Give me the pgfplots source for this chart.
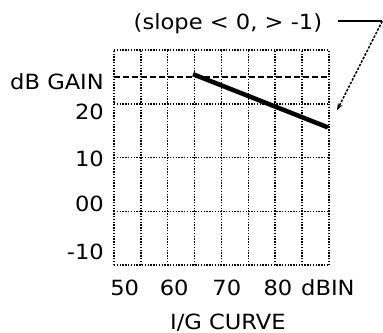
\documentclass[border=0pt]{standalone}
\usepackage{fontspec}
\setmainfont{DejaVu Sans}[FakeStretch=1.08]
\usepackage{pgfplots}
\usetikzlibrary{arrows.meta}
\pgfplotsset{compat=1.18}
\begin{document}
\begin{tikzpicture}[font=\fontsize{21}{24}\selectfont]
\useasboundingbox (-114bp,-68bp) rectangle (269bp,265bp);
\begin{axis}[
  at={(0,0)}, anchor=south west,
  scale only axis, width=215bp, height=215bp,
  xmin=50, xmax=90, ymin=-10, ymax=30,
  axis line style={draw=none},
  clip=false,
  every tick label/.append style={font=\fontsize{21}{24}\selectfont},
  every axis label/.append style={font=\fontsize{21}{24}\selectfont},
  xtick={50,55,...,90},
  xticklabels={},
  xmajorgrids,
  ytick={-7.6,1.3,9.8,18.4,24.0},
  yticklabels={-10,00,10,20,dB GAIN},
  major tick length=0,
  tick style={draw=none},
  yticklabel style={anchor=base east, inner sep=0pt, xshift=-10bp, yshift=-7.5bp},
  extra y ticks={-10,0,10,20,30},
  extra y tick labels={},
  extra y tick style={grid=major},
  major grid style={black, line width=1.5bp, dash pattern=on 1.4bp off 1.4bp},
  xlabel={I/G CURVE},
  xlabel style={at={(0.53,0)}, anchor=base, inner sep=0pt, yshift=-64bp},
]
\addplot[black, line width=1.5bp, dash pattern=on 6bp off 3bp] coordinates {(50,25) (90,25)};
\addplot[black, line width=4.5bp] coordinates {(64.7,25.5) (89.8,15.6)};
\node[anchor=base, inner sep=0pt, yshift=-30bp] at (axis cs:52,-10) {50};
\node[anchor=base, inner sep=0pt, yshift=-30bp] at (axis cs:61.2,-10) {60};
\node[anchor=base, inner sep=0pt, yshift=-30bp] at (axis cs:71,-10) {70};
\node[anchor=base, inner sep=0pt, yshift=-30bp] at (axis cs:80.5,-10) {80};
\node[anchor=base, inner sep=0pt, yshift=-30bp] at (axis cs:89.8,-10) {dBIN};
\node[anchor=base, inner sep=0pt] at (axis cs:71.2,33.9) {(slope < 0, > -1)};
\draw[black, line width=1.8bp] (axis cs:91.7,35.35) -- (axis cs:99.9,35.35);
\draw[black, line width=1.5bp, dash pattern=on 2.5bp off 1.5bp, -{Stealth[length=7bp,width=5bp]}] (axis cs:99.9,35.35) -- (axis cs:91.5,18.8);
\end{axis}
\end{tikzpicture}
\end{document}
